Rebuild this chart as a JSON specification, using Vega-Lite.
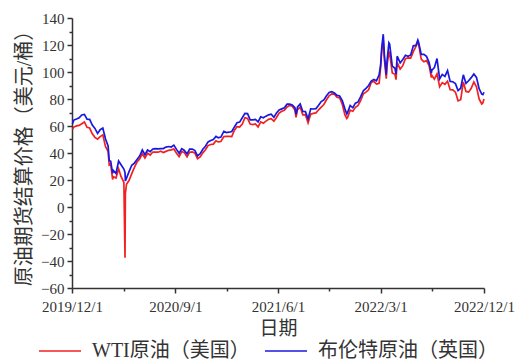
{
  "$schema": "https://vega.github.io/schema/vega-lite/v6.json",
  "width": 412,
  "height": 270,
  "autosize": {"type": "none"},
  "padding": {"left": 72, "top": 18, "right": 37, "bottom": 74},
  "background": "white",
  "config": {
    "view": {"stroke": null},
    "font": "Liberation Serif, Noto Sans CJK SC",
    "axis": {"grid": false, "domainColor": "#333333", "tickColor": "#333333", "domainWidth": 1.5, "tickWidth": 1.5, "labelColor": "#333333", "titleColor": "#333333", "labelFont": "Liberation Serif, Noto Sans CJK SC", "titleFont": "Liberation Serif, Noto Sans CJK SC", "titleFontWeight": "normal"}
  },
  "data": {
    "values": [
      {"d": "2019-12-02", "w": 57.5, "b": 61.5},
      {"d": "2019-12-06", "w": 59.2, "b": 64.4},
      {"d": "2019-12-13", "w": 60.1, "b": 65.2},
      {"d": "2019-12-20", "w": 60.4, "b": 66.1},
      {"d": "2019-12-27", "w": 61.7, "b": 68.2},
      {"d": "2020-01-03", "w": 63.0, "b": 68.6},
      {"d": "2020-01-10", "w": 59.0, "b": 65.0},
      {"d": "2020-01-17", "w": 58.5, "b": 64.9},
      {"d": "2020-01-24", "w": 54.2, "b": 60.7},
      {"d": "2020-01-31", "w": 51.6, "b": 58.2},
      {"d": "2020-02-07", "w": 50.3, "b": 54.5},
      {"d": "2020-02-14", "w": 52.1, "b": 57.3},
      {"d": "2020-02-21", "w": 53.4, "b": 58.5},
      {"d": "2020-02-28", "w": 44.8, "b": 50.5},
      {"d": "2020-03-06", "w": 41.3, "b": 45.3},
      {"d": "2020-03-09", "w": 31.1, "b": 34.4},
      {"d": "2020-03-13", "w": 31.7, "b": 33.9},
      {"d": "2020-03-18", "w": 20.4, "b": 24.9},
      {"d": "2020-03-20", "w": 22.4, "b": 27.0},
      {"d": "2020-03-27", "w": 21.5, "b": 24.9},
      {"d": "2020-04-03", "w": 28.3, "b": 34.1},
      {"d": "2020-04-09", "w": 22.8, "b": 31.5},
      {"d": "2020-04-17", "w": 18.3, "b": 28.1},
      {"d": "2020-04-20", "w": -37.6, "b": 25.6},
      {"d": "2020-04-21", "w": 10.0, "b": 19.3},
      {"d": "2020-04-24", "w": 16.9, "b": 21.4},
      {"d": "2020-05-01", "w": 19.8, "b": 26.4},
      {"d": "2020-05-08", "w": 24.7, "b": 30.9},
      {"d": "2020-05-15", "w": 29.4, "b": 32.5},
      {"d": "2020-05-22", "w": 33.3, "b": 35.1},
      {"d": "2020-05-29", "w": 35.5, "b": 37.8},
      {"d": "2020-06-05", "w": 39.6, "b": 42.3},
      {"d": "2020-06-12", "w": 36.3, "b": 38.7},
      {"d": "2020-06-19", "w": 39.8, "b": 42.2},
      {"d": "2020-06-26", "w": 38.5, "b": 41.0},
      {"d": "2020-07-03", "w": 40.7, "b": 43.0},
      {"d": "2020-07-10", "w": 40.6, "b": 43.2},
      {"d": "2020-07-17", "w": 40.6, "b": 43.1},
      {"d": "2020-07-24", "w": 41.3, "b": 43.3},
      {"d": "2020-07-31", "w": 40.3, "b": 43.3},
      {"d": "2020-08-07", "w": 41.2, "b": 44.4},
      {"d": "2020-08-14", "w": 42.0, "b": 44.8},
      {"d": "2020-08-21", "w": 42.3, "b": 44.4},
      {"d": "2020-08-28", "w": 43.0, "b": 45.8},
      {"d": "2020-09-04", "w": 39.8, "b": 42.7},
      {"d": "2020-09-11", "w": 37.3, "b": 39.8},
      {"d": "2020-09-18", "w": 41.1, "b": 43.2},
      {"d": "2020-09-25", "w": 40.3, "b": 41.9},
      {"d": "2020-10-02", "w": 37.1, "b": 39.3},
      {"d": "2020-10-09", "w": 40.6, "b": 42.9},
      {"d": "2020-10-16", "w": 40.9, "b": 42.9},
      {"d": "2020-10-23", "w": 39.9, "b": 41.8},
      {"d": "2020-10-30", "w": 35.8, "b": 37.9},
      {"d": "2020-11-06", "w": 37.1, "b": 39.5},
      {"d": "2020-11-13", "w": 40.1, "b": 42.8},
      {"d": "2020-11-20", "w": 42.4, "b": 45.0},
      {"d": "2020-11-27", "w": 45.5, "b": 48.2},
      {"d": "2020-12-04", "w": 46.3, "b": 49.3},
      {"d": "2020-12-11", "w": 46.6, "b": 50.0},
      {"d": "2020-12-18", "w": 49.1, "b": 52.3},
      {"d": "2020-12-24", "w": 48.2, "b": 51.3},
      {"d": "2020-12-31", "w": 48.5, "b": 51.8},
      {"d": "2021-01-08", "w": 52.2, "b": 56.0},
      {"d": "2021-01-15", "w": 52.4, "b": 55.1},
      {"d": "2021-01-22", "w": 52.3, "b": 55.4},
      {"d": "2021-01-29", "w": 52.2, "b": 55.9},
      {"d": "2021-02-05", "w": 56.9, "b": 59.3},
      {"d": "2021-02-12", "w": 59.5, "b": 62.4},
      {"d": "2021-02-19", "w": 59.2, "b": 62.9},
      {"d": "2021-02-26", "w": 61.5, "b": 66.1},
      {"d": "2021-03-05", "w": 66.1, "b": 69.4},
      {"d": "2021-03-12", "w": 65.6, "b": 69.2},
      {"d": "2021-03-19", "w": 61.4, "b": 64.5},
      {"d": "2021-03-26", "w": 61.0, "b": 64.6},
      {"d": "2021-04-02", "w": 61.5, "b": 64.9},
      {"d": "2021-04-09", "w": 59.3, "b": 63.0},
      {"d": "2021-04-16", "w": 63.1, "b": 66.8},
      {"d": "2021-04-23", "w": 62.1, "b": 66.1},
      {"d": "2021-04-30", "w": 63.6, "b": 67.3},
      {"d": "2021-05-07", "w": 64.9, "b": 68.3},
      {"d": "2021-05-14", "w": 65.4, "b": 68.7},
      {"d": "2021-05-21", "w": 63.6, "b": 66.4},
      {"d": "2021-05-28", "w": 66.3, "b": 69.6},
      {"d": "2021-06-04", "w": 69.6, "b": 71.9},
      {"d": "2021-06-11", "w": 70.9, "b": 72.7},
      {"d": "2021-06-18", "w": 71.6, "b": 73.5},
      {"d": "2021-06-25", "w": 74.1, "b": 76.2},
      {"d": "2021-07-02", "w": 75.2, "b": 76.2},
      {"d": "2021-07-09", "w": 74.6, "b": 75.6},
      {"d": "2021-07-16", "w": 71.8, "b": 73.6},
      {"d": "2021-07-19", "w": 66.4, "b": 68.6},
      {"d": "2021-07-23", "w": 72.1, "b": 74.1},
      {"d": "2021-07-30", "w": 74.0, "b": 76.3},
      {"d": "2021-08-06", "w": 68.3, "b": 70.7},
      {"d": "2021-08-13", "w": 68.4, "b": 70.6},
      {"d": "2021-08-20", "w": 62.3, "b": 65.2},
      {"d": "2021-08-27", "w": 68.7, "b": 72.7},
      {"d": "2021-09-03", "w": 69.3, "b": 72.6},
      {"d": "2021-09-10", "w": 69.7, "b": 72.9},
      {"d": "2021-09-17", "w": 72.0, "b": 75.3},
      {"d": "2021-09-24", "w": 74.0, "b": 78.1},
      {"d": "2021-10-01", "w": 75.9, "b": 79.3},
      {"d": "2021-10-08", "w": 79.4, "b": 82.4},
      {"d": "2021-10-15", "w": 82.3, "b": 84.9},
      {"d": "2021-10-22", "w": 83.8, "b": 85.5},
      {"d": "2021-10-29", "w": 83.6, "b": 84.4},
      {"d": "2021-11-05", "w": 81.3, "b": 82.7},
      {"d": "2021-11-12", "w": 80.8, "b": 82.2},
      {"d": "2021-11-19", "w": 76.1, "b": 78.9},
      {"d": "2021-11-26", "w": 68.2, "b": 72.7},
      {"d": "2021-12-01", "w": 65.6, "b": 68.9},
      {"d": "2021-12-03", "w": 66.3, "b": 69.9},
      {"d": "2021-12-10", "w": 71.7, "b": 75.2},
      {"d": "2021-12-17", "w": 70.9, "b": 73.5},
      {"d": "2021-12-24", "w": 73.8, "b": 76.9},
      {"d": "2021-12-31", "w": 75.2, "b": 77.8},
      {"d": "2022-01-07", "w": 78.9, "b": 81.8},
      {"d": "2022-01-14", "w": 83.8, "b": 86.1},
      {"d": "2022-01-21", "w": 85.1, "b": 87.9},
      {"d": "2022-01-28", "w": 86.8, "b": 90.0},
      {"d": "2022-02-04", "w": 92.3, "b": 93.3},
      {"d": "2022-02-11", "w": 93.1, "b": 94.4},
      {"d": "2022-02-18", "w": 91.1, "b": 93.5},
      {"d": "2022-02-25", "w": 91.6, "b": 97.9},
      {"d": "2022-03-01", "w": 103.4, "b": 105.0},
      {"d": "2022-03-04", "w": 115.7, "b": 118.1},
      {"d": "2022-03-08", "w": 123.7, "b": 128.0},
      {"d": "2022-03-11", "w": 109.3, "b": 112.7},
      {"d": "2022-03-16", "w": 95.0, "b": 98.0},
      {"d": "2022-03-18", "w": 104.7, "b": 107.9},
      {"d": "2022-03-23", "w": 114.9, "b": 121.6},
      {"d": "2022-03-25", "w": 113.9, "b": 120.7},
      {"d": "2022-04-01", "w": 99.3, "b": 104.4},
      {"d": "2022-04-08", "w": 98.3, "b": 102.8},
      {"d": "2022-04-11", "w": 94.3, "b": 98.5},
      {"d": "2022-04-14", "w": 107.0, "b": 111.7},
      {"d": "2022-04-22", "w": 102.1, "b": 106.7},
      {"d": "2022-04-29", "w": 104.7, "b": 109.3},
      {"d": "2022-05-06", "w": 109.8, "b": 112.4},
      {"d": "2022-05-13", "w": 110.5, "b": 111.6},
      {"d": "2022-05-20", "w": 110.3, "b": 112.6},
      {"d": "2022-05-27", "w": 115.1, "b": 119.4},
      {"d": "2022-06-03", "w": 118.9, "b": 119.7},
      {"d": "2022-06-08", "w": 122.1, "b": 123.6},
      {"d": "2022-06-10", "w": 120.7, "b": 122.0},
      {"d": "2022-06-17", "w": 109.6, "b": 113.1},
      {"d": "2022-06-24", "w": 107.6, "b": 113.1},
      {"d": "2022-07-01", "w": 108.4, "b": 111.6},
      {"d": "2022-07-08", "w": 104.8, "b": 107.0},
      {"d": "2022-07-14", "w": 95.8, "b": 99.1},
      {"d": "2022-07-15", "w": 97.6, "b": 101.2},
      {"d": "2022-07-22", "w": 94.7, "b": 103.2},
      {"d": "2022-07-29", "w": 98.6, "b": 110.0},
      {"d": "2022-08-05", "w": 89.0, "b": 94.9},
      {"d": "2022-08-12", "w": 92.1, "b": 98.2},
      {"d": "2022-08-19", "w": 90.8, "b": 96.7},
      {"d": "2022-08-26", "w": 93.1, "b": 101.0},
      {"d": "2022-09-02", "w": 86.9, "b": 93.0},
      {"d": "2022-09-09", "w": 86.8, "b": 92.8},
      {"d": "2022-09-16", "w": 85.1, "b": 91.4},
      {"d": "2022-09-23", "w": 78.7, "b": 86.2},
      {"d": "2022-09-30", "w": 79.5, "b": 88.0},
      {"d": "2022-10-07", "w": 92.6, "b": 97.9},
      {"d": "2022-10-14", "w": 85.6, "b": 91.6},
      {"d": "2022-10-21", "w": 85.1, "b": 93.5},
      {"d": "2022-10-28", "w": 87.9, "b": 95.8},
      {"d": "2022-11-04", "w": 92.6, "b": 98.6},
      {"d": "2022-11-11", "w": 89.0, "b": 96.0},
      {"d": "2022-11-18", "w": 80.1, "b": 87.6},
      {"d": "2022-11-25", "w": 76.3, "b": 83.6},
      {"d": "2022-11-28", "w": 77.2, "b": 83.2},
      {"d": "2022-12-01", "w": 80.0, "b": 85.0}
    ]
  },
  "transform": [
    {"fold": ["w", "b"], "as": ["s", "v"]}
  ],
  "layer": [
    {
      "mark": {"type": "line", "strokeWidth": 1.7, "interpolate": "linear"},
      "encoding": {
        "x": {
          "field": "d", "type": "temporal",
          "scale": {"type": "utc", "domain": [{"year": 2019, "month": 12, "date": 1, "utc": true}, {"year": 2022, "month": 12, "date": 1, "utc": true}], "nice": false},
          "axis": {
            "title": "日期", "titleFontSize": 19, "titlePadding": 5,
            "values": [
              {"year": 2019, "month": 12, "date": 1, "utc": true},
              {"year": 2020, "month": 9, "date": 1, "utc": true},
              {"year": 2021, "month": 6, "date": 1, "utc": true},
              {"year": 2022, "month": 3, "date": 1, "utc": true},
              {"year": 2022, "month": 12, "date": 1, "utc": true}
            ],
            "format": "%Y/%-m/%-d", "labelFontSize": 15, "tickSize": 5, "labelPadding": 6, "labelOverlap": false, "labelFlush": false
          }
        },
        "y": {
          "field": "v", "type": "quantitative",
          "scale": {"domain": [-60, 140], "nice": false, "zero": false},
          "axis": {
            "title": "原油期货结算价格（美元/桶）", "titleFontSize": 20, "titlePadding": 6,
            "values": [-60, -40, -20, 0, 20, 40, 60, 80, 100, 120, 140],
            "labelFontSize": 15, "tickSize": 5, "labelPadding": 3
          }
        },
        "color": {
          "field": "s", "type": "nominal",
          "scale": {"domain": ["w", "b"], "range": ["#f22020", "#1818e0"]},
          "legend": {
            "title": null, "orient": "none", "direction": "horizontal",
            "legendX": -34, "legendY": 311,
            "symbolType": "stroke", "symbolSize": 1764, "symbolStrokeWidth": 1.5,
            "labelFontSize": 20, "labelColor": "#333333", "labelOffset": 10, "labelLimit": 0, "columnPadding": 12, "padding": 0,
            "labelFont": "Liberation Serif, Noto Sans CJK SC",
            "labelExpr": "datum.label == 'w' ? 'WTI原油（美国）' : '布伦特原油（英国）'"
          }
        }
      }
    },
    {
      "mark": {"type": "line", "opacity": 0},
      "encoding": {
        "x": {
          "field": "d", "type": "temporal",
          "axis": {
            "orient": "bottom", "title": null, "labels": false, "domain": false, "tickSize": 3,
            "values": [
              {"year": 2020, "month": 4, "date": 16, "utc": true},
              {"year": 2021, "month": 1, "date": 15, "utc": true},
              {"year": 2021, "month": 10, "date": 15, "utc": true},
              {"year": 2022, "month": 7, "date": 16, "utc": true}
            ]
          }
        },
        "y": {
          "field": "v", "type": "quantitative",
          "axis": {
            "orient": "left", "title": null, "labels": false, "domain": false, "tickSize": 3,
            "values": [-50, -30, -10, 10, 30, 50, 70, 90, 110, 130]
          }
        },
        "detail": {"field": "s"}
      }
    }
  ],
  "resolve": {"axis": {"x": "independent", "y": "independent"}}
}
